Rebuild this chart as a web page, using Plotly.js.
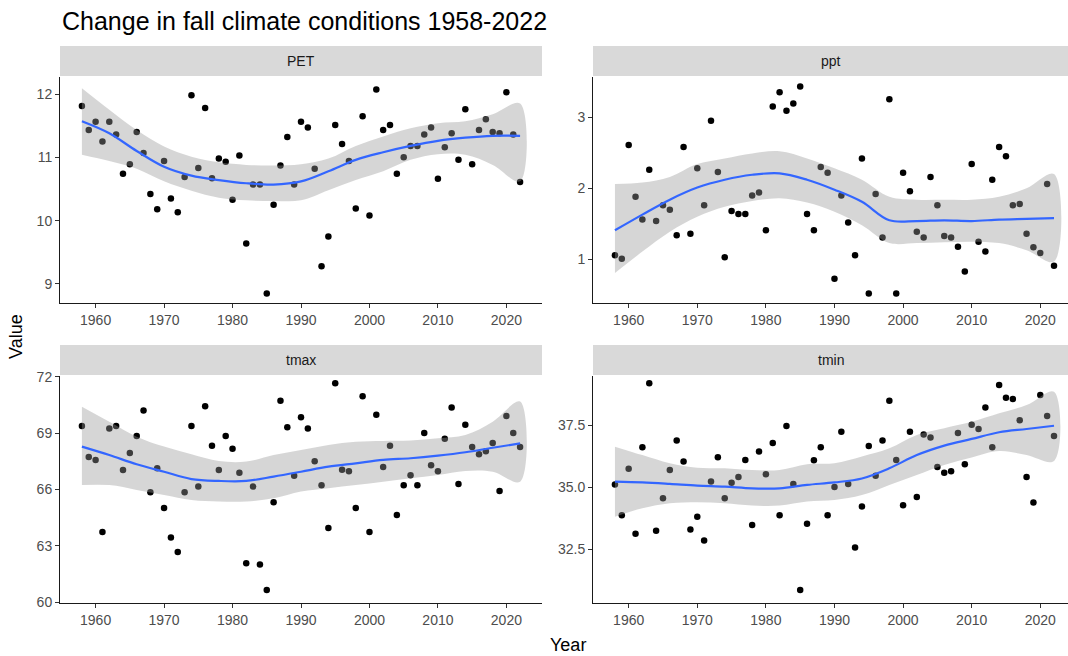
<!DOCTYPE html>
<html><head><meta charset="utf-8">
<script src="https://cdn.plot.ly/plotly-3.0.1.min.js"></script>
<style>html,body{margin:0;padding:0;background:#fff}#chart{width:1068px;height:656px}</style>
</head><body><div id="chart"></div>
<script>
const years = [1958,1959,1960,1961,1962,1963,1964,1965,1966,1967,1968,1969,1970,1971,1972,1973,1974,1975,1976,1977,1978,1979,1980,1981,1982,1983,1984,1985,1986,1987,1988,1989,1990,1991,1992,1993,1994,1995,1996,1997,1998,1999,2000,2001,2002,2003,2004,2005,2006,2007,2008,2009,2010,2011,2012,2013,2014,2015,2016,2017,2018,2019,2020,2021,2022];

const petValues = [11.81,11.43,11.56,11.25,11.56,11.36,10.74,10.89,11.40,11.07,10.42,10.18,10.94,10.35,10.13,10.69,11.98,10.83,11.78,10.67,10.98,10.93,10.33,11.03,9.64,10.57,10.57,8.85,10.25,10.87,11.32,10.57,11.56,11.47,10.82,9.28,9.75,11.51,11.21,10.94,10.19,11.65,10.08,12.07,11.43,11.51,10.74,11.00,11.18,11.18,11.36,11.47,10.66,11.16,11.38,10.96,11.76,10.89,11.43,11.60,11.40,11.38,12.03,11.36,10.61];

const pptValues = [1.06,1.01,2.61,1.88,1.56,2.26,1.54,1.76,1.70,1.34,2.58,1.36,2.28,1.76,2.95,2.23,1.03,1.68,1.64,1.64,1.90,1.94,1.41,3.15,3.35,3.09,3.19,3.43,1.64,1.41,2.30,2.22,0.73,1.90,1.52,1.06,2.42,0.52,1.92,1.31,3.25,0.52,2.22,1.96,1.39,1.31,2.16,1.76,1.33,1.31,1.18,0.83,2.34,1.25,1.11,2.12,2.58,2.45,1.76,1.78,1.36,1.17,1.09,2.06,0.91];

const tmaxValues = [69.39,67.74,67.58,63.74,69.25,69.39,67.04,67.95,68.86,70.22,65.85,67.13,65.02,63.44,62.67,65.85,69.39,66.16,70.44,68.34,67.04,68.86,68.18,66.90,62.07,66.16,62.00,60.65,65.32,70.74,69.32,66.74,69.85,69.25,67.51,66.23,63.95,71.66,67.06,66.97,65.02,70.97,63.74,69.99,67.20,68.34,64.64,66.23,66.76,66.23,69.02,67.29,66.97,68.71,70.38,66.30,69.46,68.27,67.88,68.04,68.48,65.92,69.92,69.02,68.27];

const tminValues = [35.11,33.87,35.74,33.13,36.60,39.18,33.25,34.55,35.69,36.88,36.03,33.30,33.81,32.85,35.23,36.20,34.55,35.18,35.41,36.09,33.48,36.43,35.52,36.78,33.87,37.46,35.13,30.86,33.53,36.08,36.60,33.87,35.01,37.23,35.13,32.57,34.22,36.66,35.46,36.88,38.48,36.09,34.27,37.23,34.60,37.12,37.00,35.81,35.58,35.64,37.18,35.92,37.51,37.34,38.20,36.60,39.11,38.60,38.55,37.69,35.41,34.38,38.71,37.86,37.06];

const smoothYears = [1958,1962,1966,1970,1974,1978,1982,1986,1990,1994,1998,2002,2006,2010,2014,2018,2022];

const petFit   = [11.57,11.38,11.10,10.85,10.71,10.64,10.59,10.57,10.62,10.78,10.96,11.08,11.18,11.26,11.31,11.34,11.34];
const petUpper = [12.09,11.75,11.43,11.17,11.01,10.92,10.88,10.87,10.89,10.98,11.18,11.33,11.46,11.54,11.57,11.68,11.85];
const petLower = [11.04,10.94,10.82,10.62,10.47,10.36,10.32,10.31,10.32,10.48,10.64,10.78,10.96,11.05,11.04,10.88,10.62];

const pptFit   = [1.41,1.63,1.84,2.01,2.12,2.19,2.21,2.12,1.98,1.81,1.55,1.54,1.55,1.54,1.56,1.57,1.58];
const pptUpper = [2.06,2.08,2.16,2.34,2.42,2.49,2.52,2.42,2.28,2.12,1.88,1.84,1.84,1.84,1.88,2.00,2.20];
const pptLower = [0.81,1.11,1.39,1.60,1.74,1.82,1.86,1.80,1.67,1.48,1.23,1.23,1.24,1.25,1.23,1.13,0.97];

const tmaxFit   = [68.29,67.84,67.35,66.95,66.56,66.46,66.46,66.69,66.95,67.22,67.40,67.58,67.67,67.81,67.99,68.23,68.46];
const tmaxUpper = [70.42,69.62,68.82,68.29,67.88,67.52,67.49,67.84,68.11,68.38,68.55,68.59,68.61,68.73,68.91,69.62,70.69];
const tmaxLower = [66.24,66.24,65.98,65.71,65.44,65.36,65.36,65.53,65.89,66.07,66.24,66.42,66.60,66.78,66.99,66.95,66.42];

const tminFit   = [35.22,35.19,35.13,35.06,35.02,34.95,34.95,35.09,35.19,35.35,35.76,36.29,36.67,36.94,37.21,37.34,37.47];
const tminUpper = [36.63,36.29,35.96,35.78,35.76,35.69,35.69,35.92,35.96,36.23,36.56,37.10,37.37,37.63,37.97,38.30,38.84];
const tminLower = [33.81,34.15,34.35,34.39,34.35,34.26,34.26,34.42,34.48,34.68,35.09,35.49,35.89,36.19,36.45,36.29,36.05];

const panelNames = ['PET','ppt','tmax','tmin'];
const xTickVals = [1960,1970,1980,1990,2000,2010,2020];

const W = 1068, H = 656;
const panels = [
  {name: panelNames[0], vals: petValues,  fit: petFit,  up: petUpper,  lo: petLower,  x0: 60,  x1: 542,  y0: 77,  y1: 303, xr: [1954.8, 2025.2], yr: [8.698, 12.269], tv: [9,10,11,12], tt: ['9','10','11','12'], s0: 46, s1: 76},
  {name: panelNames[1], vals: pptValues,  fit: pptFit,  up: pptUpper,  lo: pptLower,  x0: 593, x1: 1068, y0: 77,  y1: 303, xr: [1954.8, 2024.04], yr: [0.388, 3.564], tv: [1,2,3], tt: ['1','2','3'], s0: 46, s1: 76},
  {name: panelNames[2], vals: tmaxValues, fit: tmaxFit, up: tmaxUpper, lo: tmaxLower, x0: 60,  x1: 542,  y0: 376, y1: 603, xr: [1954.8, 2025.2], yr: [59.953, 72.053], tv: [60,63,66,69,72], tt: ['60','63','66','69','72'], s0: 345, s1: 375},
  {name: panelNames[3], vals: tminValues, fit: tminFit, up: tminUpper, lo: tminLower, x0: 593, x1: 1068, y0: 376, y1: 603, xr: [1954.8, 2024.04], yr: [30.340, 39.471], tv: [32.5,35,37.5], tt: ['32.5','35.0','37.5'], s0: 345, s1: 375}
];

const FONT = 'Liberation Sans, Arial, sans-serif';
const traces = [];
const layout = {
  width: W, height: H,
  margin: {l: 0, r: 0, t: 0, b: 0},
  paper_bgcolor: '#ffffff', plot_bgcolor: '#ffffff',
  showlegend: false,
  font: {family: FONT, color: '#4D4D4D', size: 14},
  shapes: [], annotations: []
};

panels.forEach((p, i) => {
  const n = i + 1;
  const xa = 'x' + (n === 1 ? '' : n), ya = 'y' + (n === 1 ? '' : n);
  const xk = 'xaxis' + (n === 1 ? '' : n), yk = 'yaxis' + (n === 1 ? '' : n);
  traces.push({type: 'scatter', mode: 'markers', x: years, y: p.vals, xaxis: xa, yaxis: ya,
    marker: {color: '#000000', size: 6.5}, hoverinfo: 'skip', cliponaxis: false});
  traces.push({type: 'scatter', mode: 'lines',
    x: smoothYears.concat(smoothYears.slice().reverse()),
    y: p.up.concat(p.lo.slice().reverse()),
    xaxis: xa, yaxis: ya, fill: 'toself', fillcolor: 'rgba(153,153,153,0.4)',
    line: {width: 0, shape: 'spline', smoothing: 1}, hoverinfo: 'skip'});
  traces.push({type: 'scatter', mode: 'lines', x: smoothYears, y: p.fit, xaxis: xa, yaxis: ya,
    line: {color: '#3366FF', width: 2.2, shape: 'spline', smoothing: 1}, hoverinfo: 'skip'});
  layout[xk] = {
    domain: [p.x0 / W, p.x1 / W], range: p.xr, anchor: ya,
    tickvals: xTickVals, ticktext: xTickVals.map(String),
    showgrid: false, zeroline: false, showline: true, linecolor: '#1a1a1a', linewidth: 1,
    ticks: 'outside', ticklen: 4, tickwidth: 1, tickcolor: '#333333',
    tickfont: {family: FONT, size: 14, color: '#4D4D4D'}
  };
  layout[yk] = {
    domain: [1 - p.y1 / H, 1 - p.y0 / H], range: p.yr, anchor: xa,
    tickvals: p.tv, ticktext: p.tt,
    showgrid: false, zeroline: false, showline: true, linecolor: '#1a1a1a', linewidth: 1,
    ticks: 'outside', ticklen: 4, tickwidth: 1, tickcolor: '#333333',
    tickfont: {family: FONT, size: 14, color: '#4D4D4D'}
  };
  layout.shapes.push({type: 'rect', xref: 'paper', yref: 'paper',
    x0: p.x0 / W, x1: p.x1 / W, y0: 1 - p.s1 / H, y1: 1 - p.s0 / H,
    fillcolor: '#D9D9D9', line: {width: 0}, layer: 'below'});
  layout.annotations.push({xref: 'paper', yref: 'paper', x: (p.x0 + Math.min(p.x1, p.x0 + 482)) / 2 / W,
    y: 1 - (p.s0 + p.s1) / 2 / H, text: p.name, showarrow: false,
    xanchor: 'center', yanchor: 'middle', font: {family: FONT, size: 14, color: '#1A1A1A'}});
});

layout.annotations.push({xref: 'paper', yref: 'paper', x: 60 / W, y: 1 - 21 / H, text: 'Change in fall climate conditions 1958-2022',
  showarrow: false, xanchor: 'left', yanchor: 'middle', font: {family: FONT, size: 25, color: '#000000'}});
layout.annotations.push({xref: 'paper', yref: 'paper', x: 568 / W, y: 1 - 645 / H, text: 'Year',
  showarrow: false, xanchor: 'center', yanchor: 'middle', font: {family: FONT, size: 18, color: '#000000'}});
layout.annotations.push({xref: 'paper', yref: 'paper', x: 16 / W, y: 1 - 337 / H, text: 'Value', textangle: -90,
  showarrow: false, xanchor: 'center', yanchor: 'middle', font: {family: FONT, size: 18, color: '#000000'}});

Plotly.newPlot('chart', traces, layout, {staticPlot: true, displayModeBar: false});
</script>
</body></html>
